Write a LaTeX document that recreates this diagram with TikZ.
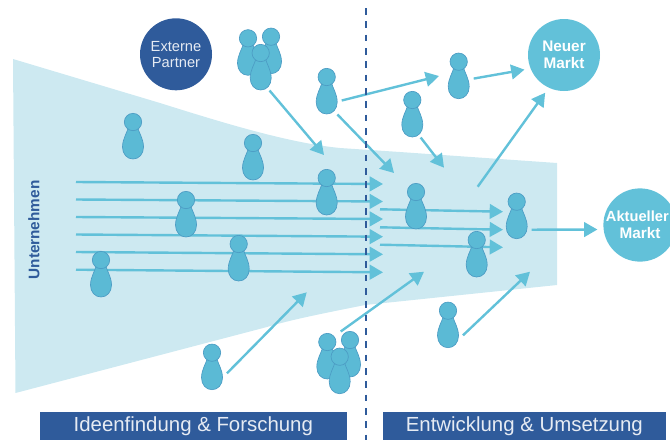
\documentclass[tikz,border=0pt]{standalone}
\usepackage{fontspec}
\setmainfont{Liberation Sans}
\usetikzlibrary{arrows.meta}
\definecolor{darkblue}{HTML}{2F5B9B}
\definecolor{midblue}{HTML}{62C1D9}
\definecolor{paleblue}{HTML}{CDE9F1}
\definecolor{pawnfill}{HTML}{5BBAD5}
\definecolor{pawnline}{HTML}{4C9CC4}
\tikzset{
	x=0.75pt, y=-0.75pt,
	flow/.style={draw=midblue,line width=1.8pt,-{Triangle[length=10pt,width=11pt]}},
	toborder/.style={flow,shorten >=4.5pt},
	market/.style={circle,fill=midblue,text=white,minimum size=54pt,inner sep=0pt,align=center,font=\fontsize{11.5}{12.5}\selectfont\bfseries},
	partner/.style={circle,fill=darkblue,text=white!88!darkblue,minimum size=54pt,inner sep=0pt,align=center,font=\fontsize{11}{12}\selectfont},
	phase/.style={fill=darkblue,text=white!88!darkblue,minimum height=21.5pt,inner sep=0pt,font=\fontsize{15.3}{17}\selectfont},
	pawn/.pic={
		\path[fill=pawnfill,draw=pawnline,line width=0.5pt] (-4.5,5) .. controls (-6,11) and (-10.5,17) .. (-10.5,25)
			.. controls (-10.5,32) and (-6,37) .. (0,37) .. controls (6,37) and (10.5,32) .. (10.5,25)
			.. controls (10.5,17) and (6,11) .. (4.5,5) -- cycle;
		\node[circle,fill=pawnfill,draw=pawnline,line width=0.5pt,minimum size=13pt,inner sep=0pt] (-head) at (0,0) {};
		\node[inner sep=0pt,outer sep=0pt,minimum width=22.5pt,minimum height=34.5pt] (-box) at (0,14.5) {};
	}
}

\begin{document}
\begin{tikzpicture}
\useasboundingbox (0,0) rectangle (670,440);

% band
\fill[paleblue] (13,59) -- (160,103) .. controls (230,125) and (290,143) .. (340,148) -- (400,152) -- (557,163)
	-- (557,285) -- (365,305) .. controls (320,314) and (290,320) .. (267,327) -- (15.5,393) -- cycle;

% arrows through the band
\coordinate (in1) at (76,182); \coordinate (out1) at (383,184);
\coordinate (in2) at (76,199.5); \coordinate (out2) at (383,201.5);
\coordinate (in3) at (76,217); \coordinate (out3) at (383,219);
\coordinate (in4) at (76,234.5); \coordinate (out4) at (383,236.7);
\coordinate (in5) at (76,252); \coordinate (out5) at (383,254.3);
\coordinate (in6) at (76,269.7); \coordinate (out6) at (383,272.3);
\draw[flow] (in1) -- (out1);
\draw[flow] (in2) -- (out2);
\draw[flow] (in3) -- (out3);
\draw[flow] (in4) -- (out4);
\draw[flow] (in5) -- (out5);
\draw[flow] (in6) -- (out6);

\coordinate (mid1) at (380,209.3); \coordinate (end1) at (503,211.7);
\coordinate (mid2) at (380,227.3); \coordinate (end2) at (503,229.7);
\coordinate (mid3) at (380,244.7); \coordinate (end3) at (503,247.3);
\draw[flow] (mid1) -- (end1);
\draw[flow] (mid2) -- (end2);
\draw[flow] (mid3) -- (end3);

% pawns
\pic (a) at (133,122) {pawn};
\pic (b) at (253,143) {pawn};
\pic (c) at (186,200) {pawn};
\pic (d) at (326.7,178) {pawn};
\pic (e) at (101,260) {pawn};
\pic (f) at (238.7,244) {pawn};
\pic (g) at (212,352.7) {pawn};
\pic (h) at (416,192) {pawn};
\pic (i) at (516.7,201.7) {pawn};
\pic (j) at (476.7,240) {pawn};
\pic (k) at (448,310.7) {pawn};
\pic (l) at (458.7,61.7) {pawn};
\pic (m) at (412.3,100) {pawn};
\pic (n) at (326.7,77) {pawn};

% groups
\pic (top1) at (248,38.3) {pawn};
\pic (top2) at (271,36.7) {pawn};
\pic (top3) at (260.7,53) {pawn};
\pic (low1) at (327.3,342) {pawn};
\pic (low2) at (350,340) {pawn};
\pic (low3) at (339.7,356.7) {pawn};

% circles
\node[partner] (partner) at (176,54.3) {Externe\\Partner};
\node[market] (neu) at (564,55) {Neuer\\Markt};
\node[market] (aktuell) at (640,225) {{\fontsize{11}{12.5}\selectfont Aktueller\kern4pt}\\Markt};

% other arrows
\coordinate (t1) at (324,155);
\coordinate (t2) at (394,173);
\coordinate (t3) at (439,76);
\coordinate (t4) at (444,167.7);
\coordinate (t5) at (306.7,292.3);
\coordinate (t6) at (424,271.7);
\coordinate (t7) at (530,271.7);
\coordinate (s1) at (477.7,186.7);
\draw[flow] (top3-box.-69) -- (t1);
\draw[flow] (n-box.-65) -- (t2);
\draw[flow] (n-box.-31) -- (t3);
\draw[flow] (m-box.-70) -- (t4);
\draw[flow] (g-box.-22) -- (t5);
\draw[flow] (low2-box.112) -- (t6);
\draw[flow] (k-box.-34) -- (t7);
\draw[toborder] (l-box.-9) -- (neu.202);
\draw[toborder] (s1) -- (neu.245);
\draw[toborder] (i-box.-42) -- (aktuell.187);

% divider
\coordinate (divtop) at (365.5,8);
\coordinate (divbot) at (365.5,440);
\draw[darkblue,line width=1.5pt,dash pattern=on 5pt off 5pt] (divtop) -- (divbot);

% phases and labels
\node[phase,minimum width=230pt] (ideen) at (193.3,426) {Ideenfindung \& Forschung};
\node[phase,minimum width=212pt] (entw) at (524.3,426) {Entwicklung \& Umsetzung};
\node[rotate=90,text=darkblue,font=\fontsize{11.5}{12}\selectfont\bfseries] (firma) at (34,230) {Unternehmen};
\end{tikzpicture}
\end{document}
